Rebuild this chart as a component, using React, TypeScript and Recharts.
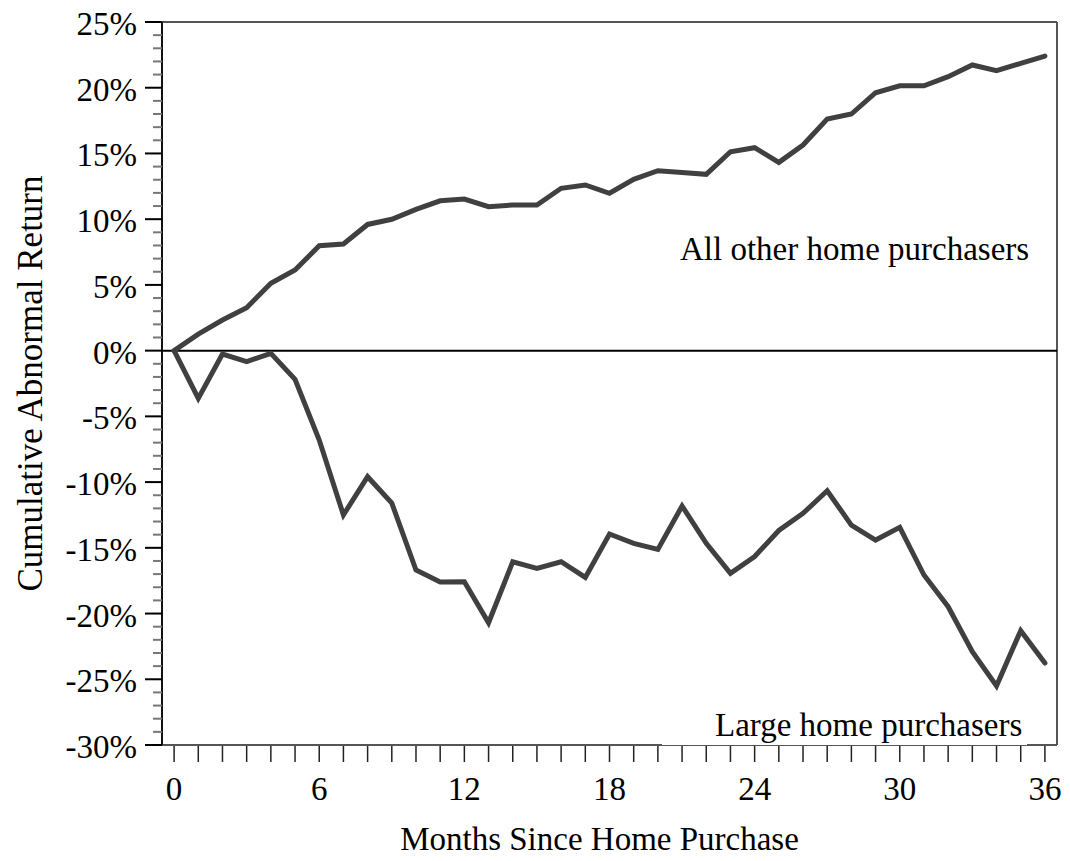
import React from 'react';
import { LineChart, Line, XAxis, YAxis, ReferenceLine } from 'recharts';

// months since purchase
const months = [0, 1, 2, 3, 4, 5, 6, 7, 8, 9, 10, 11, 12, 13, 14, 15, 16, 17, 18, 19, 20, 21, 22, 23, 24, 25, 26, 27, 28, 29, 30, 31, 32, 33, 34, 35, 36];

// cumulative abnormal return, %
const allOtherReturns = [0, 1.26, 2.33, 3.27, 5.12, 6.13, 7.98, 8.11, 9.6, 9.99, 10.75, 11.4, 11.53, 10.95, 11.08, 11.08, 12.35, 12.6, 11.97, 13.03, 13.69, 13.56, 13.41, 15.13, 15.44, 14.32, 15.64, 17.62, 18.0, 19.62, 20.15, 20.15, 20.84, 21.73, 21.3, 21.85, 22.41];
const largeReturns = [0, -3.63, -0.26, -0.84, -0.21, -2.18, -6.8, -12.5, -9.59, -11.6, -16.69, -17.6, -17.58, -20.7, -16.06, -16.56, -16.06, -17.25, -13.95, -14.66, -15.12, -11.82, -14.66, -16.94, -15.66, -13.68, -12.38, -10.66, -13.27, -14.41, -13.44, -17.07, -19.48, -22.9, -25.5, -21.3, -23.77];

const monthTicks = months;
const monthLabels = [0, 6, 12, 18, 24, 30, 36];
const returnTicks = [-30, -29, -28, -27, -26, -25, -24, -23, -22, -21, -20, -19, -18, -17, -16, -15, -14, -13, -12, -11, -10, -9, -8, -7, -6, -5, -4, -3, -2, -1, 0, 1, 2, 3, 4, 5, 6, 7, 8, 9, 10, 11, 12, 13, 14, 15, 16, 17, 18, 19, 20, 21, 22, 23, 24, 25];
const returnLabels = [-30, -25, -20, -15, -10, -5, 0, 5, 10, 15, 20, 25];

const X_DOMAIN = [-0.5, 36.5];
const Y_DOMAIN = [-30, 25];

const data = months.map((m, i) => ({ month: m, other: allOtherReturns[i], large: largeReturns[i] }));

const FONT = "'Liberation Serif', 'Times New Roman', serif";
const LINE_COLOR = '#404040';
const FRAME = '#555';

const MonthTick = (props: any) => {
  const { x, y, payload } = props;
  const show = monthLabels.includes(payload.value);
  return (
    <g>
      <line x1={x} x2={x} y1={y + 1} y2={y + 17} stroke="#222" strokeWidth={1.5} />
      {show && (
        <text x={x} y={y + 55} textAnchor="middle" fontSize={33} fontFamily={FONT} fill="#000">
          {payload.value}
        </text>
      )}
    </g>
  );
};

const ReturnTick = (props: any) => {
  const { x, y, payload } = props;
  const major = returnLabels.includes(payload.value);
  return (
    <g>
      <line x1={x - (major ? 17 : 9)} x2={x} y1={y} y2={y} stroke={major ? '#000' : '#777'} strokeWidth={2} />
      {major && (
        <text x={x - 25} y={y + 13} textAnchor="end" fontSize={33} fontFamily={FONT} fill="#000">
          {payload.value + '%'}
        </text>
      )}
    </g>
  );
};

const YTitle = (props: any) => {
  const { viewBox } = props;
  const cy = viewBox.y + viewBox.height / 2;
  return (
    <text x={42} y={cy} transform={`rotate(-90, 42, ${cy})`} textAnchor="middle" fontSize={35} fontFamily={FONT} fill="#000">
      Cumulative Abnormal Return
    </text>
  );
};

const XTitle = (props: any) => {
  const { viewBox } = props;
  return (
    <text x={viewBox.x + viewBox.width / 2 - 10} y={viewBox.y + 105} textAnchor="middle" fontSize={33} fontFamily={FONT} fill="#000">
      Months Since Home Purchase
    </text>
  );
};

const App: React.FC = () => {
  return (
    <div style={{ position: 'absolute', left: 0, top: 0, width: 1070, height: 861, background: '#fff', fontFamily: FONT }}>
      <LineChart width={1070} height={861} data={data} margin={{ top: 22, right: 13, left: 0, bottom: 0 }}>
        <XAxis
          dataKey="month"
          type="number"
          domain={X_DOMAIN}
          ticks={monthTicks}
          interval={0}
          height={116}
          tickSize={0}
          tickMargin={0}
          tickLine={false}
          tick={<MonthTick />}
          axisLine={{ stroke: FRAME, strokeWidth: 2 }}
          label={<XTitle />}
        />
        <YAxis
          type="number"
          domain={Y_DOMAIN}
          ticks={returnTicks}
          interval={0}
          width={162}
          tickSize={0}
          tickMargin={0}
          tickLine={false}
          tick={<ReturnTick />}
          axisLine={{ stroke: '#111', strokeWidth: 2 }}
          label={<YTitle />}
        />
        {/* top and right sides of the frame */}
        <ReferenceLine y={Y_DOMAIN[1]} stroke={FRAME} strokeWidth={2} />
        <ReferenceLine x={X_DOMAIN[1]} stroke={FRAME} strokeWidth={2} />
        <ReferenceLine y={0} stroke="#000" strokeWidth={2} />
        <Line dataKey="other" stroke={LINE_COLOR} strokeWidth={5} dot={false} strokeLinecap="round" isAnimationActive={false} />
        <Line dataKey="large" stroke={LINE_COLOR} strokeWidth={5} dot={false} strokeLinecap="round" isAnimationActive={false} />
      </LineChart>
      <div style={{ position: 'absolute', left: 680, top: 233, fontSize: 33, lineHeight: '33px', whiteSpace: 'nowrap', color: '#000' }}>
        All other home purchasers
      </div>
      <div style={{ position: 'absolute', left: 662, top: 704, width: 365, height: 41, boxSizing: 'border-box', paddingLeft: 53, paddingTop: 5, background: '#fff', fontSize: 33, lineHeight: '33px', whiteSpace: 'nowrap', color: '#000' }}>
        Large home purchasers
      </div>
    </div>
  );
};

export default App;
